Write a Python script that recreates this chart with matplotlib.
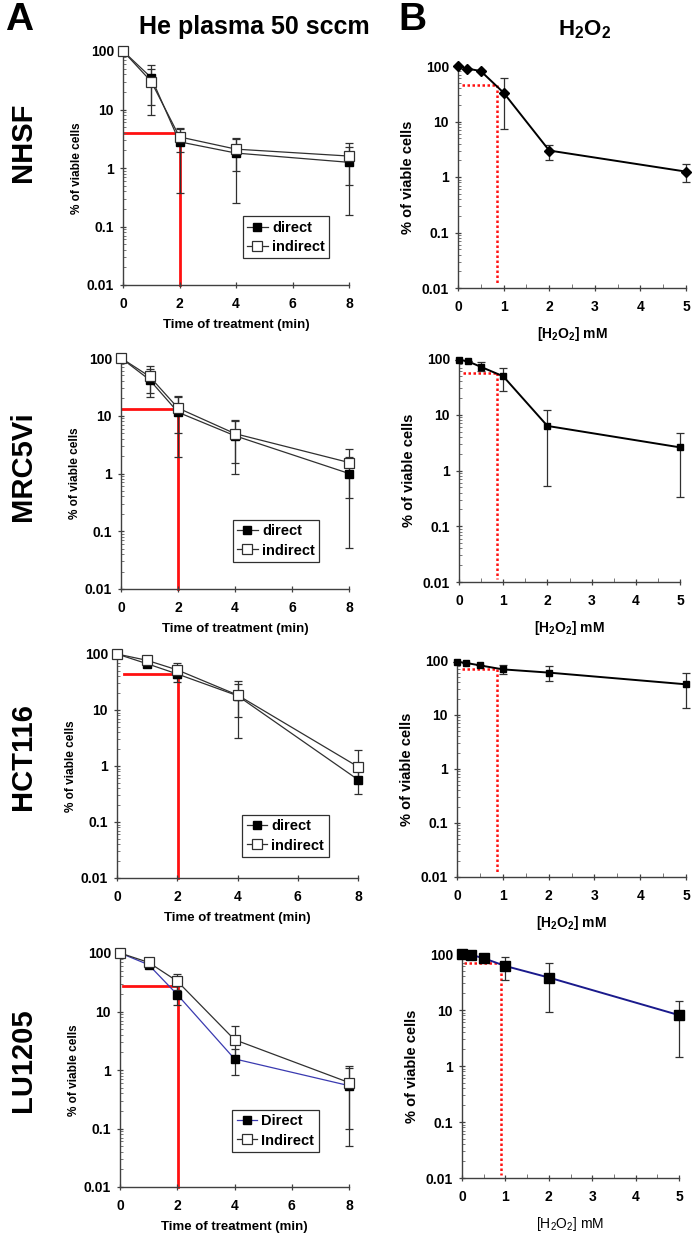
import numpy as np
import matplotlib.pyplot as plt
from matplotlib.ticker import FixedLocator, LogLocator, NullFormatter, MultipleLocator

plt.rcParams['font.family'] = ['Liberation Sans', 'DejaVu Sans']
plt.rcParams['mathtext.fontset'] = 'custom'
plt.rcParams['mathtext.rm'] = 'Liberation Sans'
plt.rcParams['mathtext.bf'] = 'Liberation Sans:bold'
plt.rcParams['mathtext.it'] = 'Liberation Sans:italic'

# --- data ---
time_min = [0, 1, 2, 4, 8]
h2o2_mM = [0, 0.2, 0.5, 1, 2, 5]
cell_lines = ['NHSF', 'MRC5Vi', 'HCT116', 'LU1205']

# plasma, direct treatment (% viable), with error bar bottoms/tops
direct_mean = [[100, 35, 2.8, 1.8, 1.25],
               [100, 42, 11.5, 4.5, 1.0],
               [100, 67, 44, 18, 0.57],
               [100, 63, 19.5, 1.55, 0.54]]
direct_lo = [[100, 8, 0.38, 0.25, 0.16],
             [100, 21, 1.9, 0.97, 0.052],
             [100, 60, 31, 3.2, 0.31],
             [100, 58, 13, 0.82, 0.05]]
direct_hi = [[100, 58, 4.9, 3.2, 2.3],
             [100, 65, 21, 8.0, 1.9],
             [100, 75, 60, 33, 0.85],
             [100, 70, 27, 2.3, 1.1]]

# plasma, indirect treatment
indirect_mean = [[100, 30, 3.4, 2.1, 1.6],
                 [100, 48, 13.6, 4.9, 1.55],
                 [100, 77, 52, 18.5, 0.97],
                 [100, 69, 33, 3.3, 0.61]]
indirect_lo = [[100, 12, 1.9, 0.9, 0.52],
               [100, 25, 5.0, 1.5, 0.38],
               [100, 70, 38, 7.5, 0.5],
               [100, 63, 23, 1.5, 0.1]]
indirect_hi = [[100, 50, 4.6, 3.1, 2.7],
               [100, 72, 22, 8.3, 2.7],
               [100, 85, 69, 29, 1.97],
               [100, 75, 44, 5.7, 1.15]]

# H2O2 dose response
h2o2_mean = [[100, 90, 81, 33, 3.0, 1.25],
             [97, 91, 72, 49, 6.3, 2.6],
             [97, 92, 83, 70, 61, 37],
             [100, 97, 84, 61, 38, 8.1]]
h2o2_lo = [[100, 90, 81, 7.2, 2.0, 0.8],
           [97, 91, 60, 27, 0.53, 0.33],
           [97, 92, 83, 58, 43, 13.7],
           [100, 97, 84, 34, 9.3, 1.43]]
h2o2_hi = [[100, 90, 81, 62, 3.8, 1.7],
           [97, 91, 88, 69, 12.3, 4.7],
           [97, 92, 83, 86, 80, 61],
           [100, 97, 84, 87, 68, 14.7]]

# red guide lines
plasma_guide_y = [4.0, 13.3, 44, 27]
plasma_guide_x = [2.0, 2.0, 2.04, 2.04]
plasma_guide_x0 = [0, 0, 0.22, 0.1]
h2o2_guide_y = [46, 56, 71, 70]
h2o2_guide_x = [0.855, 0.86, 0.87, 0.89]
h2o2_guide_x0 = [0.08, 0.08, 0.1, 0.05]

legend_labels = [['direct', 'indirect']] * 3 + [['Direct', 'Indirect']]

# --- layout (pixel boxes: left, top, right, bottom) ---
W, H = 697, 1240
boxes_a = [(123, 51, 349, 285), (121, 358, 349, 589), (117, 654, 358, 878), (120, 953, 349, 1187)]
boxes_b = [(458, 66, 686, 288), (459, 359, 680, 582), (457, 661, 686, 877), (462, 954, 679, 1178)]
legend_pos = [(0.53, 0.115), (0.49, 0.117), (0.52, 0.094), (0.49, 0.15)]
row_label_y = [142, 466, 757, 1060]

fig = plt.figure(figsize=(W / 100, H / 100), dpi=100)

def make_ax(box):
  l, t, r, b = box
  return fig.add_axes([l / W, 1 - b / H, (r - l) / W, (b - t) / H])

def style_log_axis(ax):
  ax.set_yscale('log')
  ax.set_ylim(0.01, 100)
  ax.yaxis.set_major_locator(FixedLocator([0.01, 0.1, 1, 10, 100]))
  ax.yaxis.set_minor_locator(LogLocator(base=10, subs=np.arange(2, 10)))
  ax.yaxis.set_minor_formatter(NullFormatter())
  ax.set_yticklabels(['0.01', '0.1', '1', '10', '100'])
  for s in ['top', 'right']:
    ax.spines[s].set_visible(False)
  for s in ['left', 'bottom']:
    ax.spines[s].set_color('#404040')
    ax.spines[s].set_linewidth(1.0)
  ax.tick_params(which='major', direction='inout', length=5, width=0.9, color='#404040',
                 labelsize=10, pad=4)
  ax.tick_params(which='minor', direction='in', length=2.5, width=0.6, color='#606060')
  ax.tick_params(axis='x', which='major', pad=6)
  for lbl in ax.get_xticklabels() + ax.get_yticklabels():
    lbl.set_fontweight('bold')
  ax.patch.set_alpha(0)

def yerr(mean, lo, hi):
  m = np.array(mean)
  return [m - np.array(lo), np.array(hi) - m]

for i, name in enumerate(cell_lines):
  # --- panel A: plasma ---
  ax = make_ax(boxes_a[i])
  ax.set_xlim(0, 8)
  ax.set_xticks([0, 2, 4, 6, 8])
  style_log_axis(ax)
  ax.tick_params(axis='x', which='minor', length=0)
  direct_color = '#3a3ab0' if i == 3 else '#303030'
  ax.plot([plasma_guide_x0[i], plasma_guide_x[i]], [plasma_guide_y[i], plasma_guide_y[i]],
          color='#ff1010', lw=2, zorder=1)
  ax.plot([plasma_guide_x[i], plasma_guide_x[i]], [plasma_guide_y[i], 0.01],
          color='#ff1010', lw=2, zorder=1, clip_on=False)
  ax.errorbar(time_min, direct_mean[i], yerr=yerr(direct_mean[i], direct_lo[i], direct_hi[i]),
              fmt='none', ecolor='#303030', elinewidth=0.9, capsize=3, capthick=0.9,
              zorder=2, clip_on=False)
  ax.errorbar(time_min, indirect_mean[i], yerr=yerr(indirect_mean[i], indirect_lo[i], indirect_hi[i]),
              fmt='none', ecolor='#303030', elinewidth=0.9, capsize=3, capthick=0.9,
              zorder=2, clip_on=False)
  ax.plot(time_min, direct_mean[i], '-s', color=direct_color, lw=0.9, ms=6,
          mfc='black', mec='black', label=legend_labels[i][0], zorder=3, clip_on=False)
  ax.plot(time_min, indirect_mean[i], '-s', color='#303030', lw=0.9, ms=6.5,
          mfc='white', mec='#303030', mew=0.9, label=legend_labels[i][1], zorder=4, clip_on=False)
  leg = ax.legend(loc='lower left', bbox_to_anchor=legend_pos[i], frameon=True, fancybox=False,
                  edgecolor='#303030', framealpha=1, handlelength=1.4, handletextpad=0.3,
                  borderpad=0.3, labelspacing=0.35, borderaxespad=0,
                  prop={'weight': 'bold', 'size': 10.5})
  leg.get_frame().set_linewidth(0.9)
  ax.set_xlabel('Time of treatment (min)', fontsize=9.5, fontweight='bold', labelpad=6)
  ax.set_ylabel('% of viable cells', fontsize=8.5, fontweight='bold', labelpad=3)

  # --- panel B: H2O2 ---
  bx = make_ax(boxes_b[i])
  bx.set_xlim(0, 5)
  bx.xaxis.set_major_locator(MultipleLocator(1))
  bx.xaxis.set_minor_locator(MultipleLocator(0.5))
  style_log_axis(bx)
  bx.tick_params(axis='x', which='minor', direction='in', length=3)
  line_color = '#1a1a8c' if i == 3 else 'black'
  marker = 'D' if i == 0 else 's'
  msize = [5, 4.5, 4.5, 7][i]
  bx.plot([h2o2_guide_x0[i], h2o2_guide_x[i]], [h2o2_guide_y[i], h2o2_guide_y[i]],
          color='#ff1010', lw=1.8, ls=(0, (1, 1)), zorder=1)
  bx.plot([h2o2_guide_x[i], h2o2_guide_x[i]], [h2o2_guide_y[i], 0.0115],
          color='#ff1010', lw=1.8, ls=(0, (1, 1)), zorder=1)
  bx.errorbar(h2o2_mM, h2o2_mean[i], yerr=yerr(h2o2_mean[i], h2o2_lo[i], h2o2_hi[i]),
              fmt='none', ecolor='#303030', elinewidth=0.9, capsize=3, capthick=0.9,
              zorder=2, clip_on=False)
  bx.plot(h2o2_mM, h2o2_mean[i], '-', marker=marker, color=line_color, lw=1.4, ms=msize,
          mfc='black', mec='black', zorder=3, clip_on=False)
  bx.set_xlabel('[H$_\\mathbf{2}$O$_\\mathbf{2}$] mM' if i < 3 else '[H$_2$O$_2$] mM',
                fontsize=10, fontweight='bold' if i < 3 else 'normal', labelpad=8)
  bx.set_ylabel('% of viable cells', fontsize=10.5, fontweight='bold', labelpad=5)

  fig.text(23 / W, 1 - row_label_y[i] / H, name, rotation=90, ha='center', va='center',
           fontsize=21, fontweight='bold')

fig.text(19 / W, 1 - 20 / H, 'A', ha='center', va='center', fontsize=28, fontweight='bold')
fig.text(412 / W, 1 - 20 / H, 'B', ha='center', va='center', fontsize=28, fontweight='bold')
fig.text(254 / W, 1 - 27 / H, 'He plasma 50 sccm', ha='center', va='center',
         fontsize=18, fontweight='bold')
fig.text(585 / W, 1 - 30 / H, 'H$_\\mathbf{2}$O$_\\mathbf{2}$', ha='center', va='center',
         fontsize=16, fontweight='bold')

fig.savefig('out.png', dpi=100)
